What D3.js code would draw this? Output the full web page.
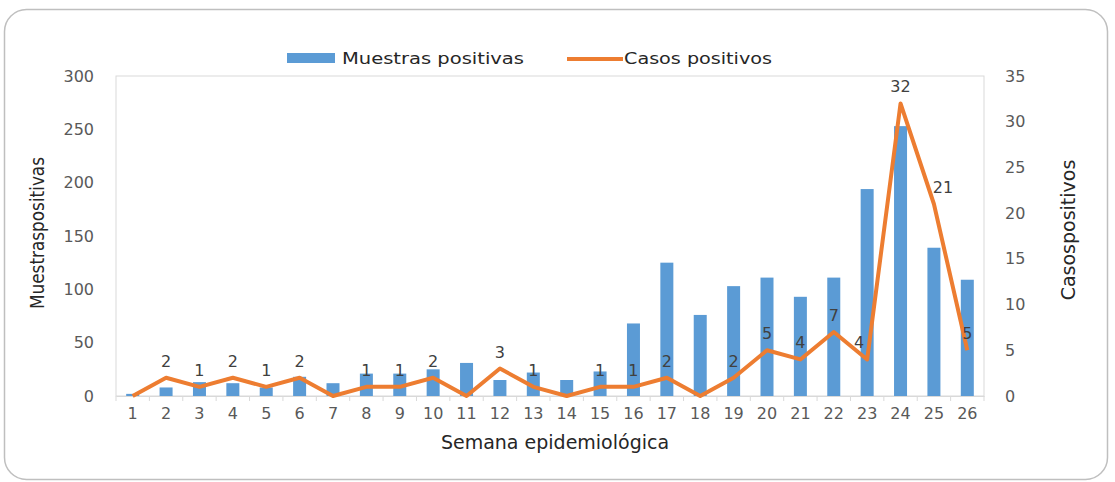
<!DOCTYPE html>
<html><head><meta charset="utf-8">
<script src="https://cdn.jsdelivr.net/npm/d3@7"></script>
<style>body{margin:0;background:#fff}svg{display:block}text{font-family:"DejaVu Sans",sans-serif}</style>
</head><body>
<svg id="c" width="1115" height="482"></svg>
<script>
const weeks = ["1","2","3","4","5","6","7","8","9","10","11","12","13","14","15","16","17","18","19","20","21","22","23","24","25","26"];
const muestras = [2,8,13,12,8,18,12,21,21,25,31,15,22,15,23,68,125,76,103,111,93,111,194,253,139,109];
const casos = [0,2,1,2,1,2,0,1,1,2,0,3,1,0,1,1,2,0,2,5,4,7,4,32,21,5];
const leftTicks = [0,50,100,150,200,250,300];
const rightTicks = [0,5,10,15,20,25,30,35];

const svg = d3.select("#c");
const M = {l:116, r:984, t:76, b:396};
const blue = "#5B9BD5", orange = "#ED7D31", tc = "#595959";

svg.append("rect").attr("x",4.5).attr("y",9.5).attr("width",1103).attr("height",470)
  .attr("rx",22).attr("fill","#fff").attr("stroke","#bfbfbf").attr("stroke-width",1.5);

const xb = d3.scaleBand().domain(weeks).range([M.l,M.r]);
const yL = d3.scaleLinear().domain([0,300]).range([M.b,M.t]);
const yR = d3.scaleLinear().domain([0,35]).range([M.b,M.t]);
const cx = w => xb(w)+xb.bandwidth()/2;

svg.append("rect").attr("x",M.l).attr("y",M.t).attr("width",M.r-M.l).attr("height",M.b-M.t)
  .attr("fill","none").attr("stroke","#d9d9d9").attr("stroke-width",1);

svg.selectAll("rect.bar").data(muestras).join("rect").attr("class","bar")
  .attr("x",(d,i)=>cx(weeks[i])-6.5).attr("width",13)
  .attr("y",d=>yL(d)).attr("height",d=>yL(0)-yL(d)).attr("fill",blue);

const gx = svg.append("g").attr("transform",`translate(0,${M.b})`)
  .call(d3.axisBottom(xb).tickSize(0).tickPadding(12));
gx.select(".domain").attr("stroke","#d9d9d9");
gx.selectAll("text").attr("font-size",16).attr("fill",tc);
svg.append("g").selectAll("line").data(d3.range(weeks.length+1)).join("line")
  .attr("x1",i=>M.l+i*xb.step()).attr("x2",i=>M.l+i*xb.step())
  .attr("y1",M.b).attr("y2",M.b+5).attr("stroke","#d9d9d9");

const gl = svg.append("g").attr("transform",`translate(${M.l},0)`)
  .call(d3.axisLeft(yL).tickValues(leftTicks).tickSize(0).tickPadding(22));
gl.select(".domain").remove();
gl.selectAll("text").attr("font-size",16).attr("fill",tc);

const gr = svg.append("g").attr("transform",`translate(${M.r},0)`)
  .call(d3.axisRight(yR).tickValues(rightTicks).tickSize(0).tickPadding(21));
gr.select(".domain").remove();
gr.selectAll("text").attr("font-size",16).attr("fill",tc);

const line = d3.line().x((d,i)=>cx(weeks[i])).y(d=>yR(d));
svg.append("path").datum(casos).attr("d",line).attr("fill","none")
  .attr("stroke",orange).attr("stroke-width",4).attr("stroke-linejoin","round");

const dxAdj = {22:-8, 24:9};
const lbls = casos.map((v,i)=>({v,i})).filter(d=>d.v>0);
svg.selectAll("text.lbl").data(lbls).join("text").attr("class","lbl")
  .attr("x",d=>cx(weeks[d.i])+(dxAdj[d.i]||0))
  .attr("y",d=>yR(d.v)-11).attr("text-anchor","middle")
  .attr("font-size",16).attr("fill","#404040").text(d=>d.v);

svg.append("text").attr("x",555).attr("y",449).attr("text-anchor","middle")
  .attr("font-size",19).attr("fill","#262626").text("Semana epidemiológica");
svg.append("text").attr("transform","translate(44,233) rotate(-90)").attr("text-anchor","middle")
  .attr("font-size",19).attr("fill","#262626")
  .attr("textLength",152).attr("lengthAdjust","spacingAndGlyphs").text("Muestraspositivas");
svg.append("text").attr("transform","translate(1075,230) rotate(-90)").attr("text-anchor","middle")
  .attr("font-size",19).attr("fill","#262626").text("Casospositivos");

svg.append("rect").attr("x",287).attr("y",53).attr("width",48).attr("height",10).attr("fill",blue);
svg.append("text").attr("x",342).attr("y",64).attr("font-size",16).attr("fill","#262626")
  .attr("textLength",182).attr("lengthAdjust","spacingAndGlyphs").text("Muestras positivas");
svg.append("line").attr("x1",567).attr("x2",623).attr("y1",59).attr("y2",59)
  .attr("stroke",orange).attr("stroke-width",4);
svg.append("text").attr("x",624).attr("y",64).attr("font-size",16).attr("fill","#262626")
  .attr("textLength",148).attr("lengthAdjust","spacingAndGlyphs").text("Casos positivos");
</script>
</body></html>
